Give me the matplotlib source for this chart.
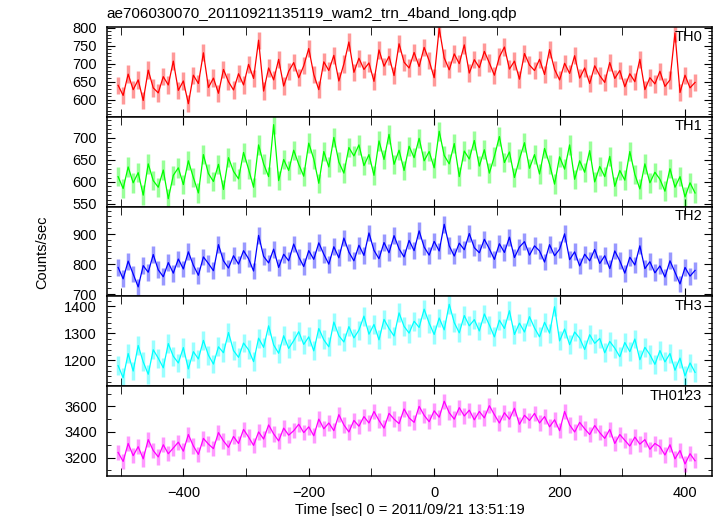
import matplotlib.pyplot as plt
import numpy as np
from matplotlib.ticker import MultipleLocator

plt.rcParams['font.family'] = ['Liberation Sans', 'DejaVu Sans']

# light curve bins: start time and width [sec]
t_start = -504
t_bin = 8

th0 = [640, 612, 671, 628, 655, 598, 682, 633, 619, 664, 641, 707,
       626, 652, 589, 668, 645, 730, 634, 660, 618, 684, 650, 627,
       672, 641, 698, 659, 765, 624, 688, 655, 712, 638, 679, 703,
       661, 694, 742, 670, 628, 705, 681, 723, 652, 699, 760, 676,
       715, 684, 702, 651, 738, 693, 720, 667, 755, 704, 688, 731,
       692, 745, 708, 661, 798, 716, 683, 727, 700, 752, 674, 711,
       689, 734, 702, 668, 719, 746, 685, 707, 657, 728, 696, 681,
       712, 670, 739, 684, 655, 701, 673, 722, 660, 688, 645, 694,
       667, 648, 703, 659, 681, 636, 672, 650, 712, 628, 661, 644,
       679, 637, 655, 785, 620, 668, 633, 648]

th1 = [612, 585, 634, 598, 621, 570, 641, 603, 588, 627, 562, 615,
       632, 594, 648, 610, 575, 662, 619, 601, 640, 583, 655, 624,
       607, 667, 629, 588, 684, 641, 612, 730, 603, 651, 626, 672,
       640, 613, 688, 652, 597, 669, 634, 701, 645, 620, 678, 659,
       684, 637, 662, 615, 693, 651, 708, 640, 672, 626, 681, 655,
       699, 648, 669, 632, 715, 660, 641, 687, 612, 670, 652, 694,
       636, 673, 620, 658, 703, 644, 668, 610, 652, 689, 631, 662,
       618, 676, 640, 595, 657, 629, 684, 606, 648, 622, 671, 600,
       635, 612, 658, 590, 626, 604, 669, 617, 584, 641, 598, 622,
       606, 579, 630, 588, 612, 566, 598, 575]

th2 = [790, 752, 811, 768, 725, 796, 774, 833, 782, 759, 806, 771,
       818, 785, 842, 797, 764, 825, 803, 779, 866, 812, 788, 829,
       801, 846, 819, 778, 897, 827, 805, 851, 790, 834, 812, 868,
       825, 793, 846, 817, 872, 834, 801, 859, 822, 888, 841, 812,
       864, 830, 905, 847, 819, 873, 839, 896, 852, 825, 880, 846,
       912, 858, 831, 877, 845, 934, 862, 828, 871, 849, 903, 856,
       839, 884, 852, 817, 869, 840, 891, 823, 858, 876, 831, 862,
       845, 808, 866, 829, 851, 902, 816, 842, 795, 834, 812, 850,
       803, 829, 786, 845, 812, 771, 824, 798, 862, 786, 809, 772,
       795, 758, 812, 774, 735, 790, 761, 780]

th3 = [1180, 1135, 1225, 1160, 1255, 1194, 1148, 1239, 1208, 1172, 1262, 1215,
       1190, 1247, 1168, 1232, 1205, 1274, 1219, 1186, 1250, 1228, 1303, 1236,
       1211, 1264, 1239, 1195, 1282, 1248, 1328, 1257, 1226, 1291, 1244, 1273,
       1306, 1259, 1287, 1235, 1318, 1276, 1250, 1342, 1291, 1268, 1325, 1283,
       1312, 1364, 1297, 1333, 1276, 1352, 1318, 1290, 1376, 1326, 1301, 1345,
       1322, 1390, 1338, 1296, 1357, 1313, 1408, 1340, 1302, 1366, 1328, 1351,
       1309, 1372, 1331, 1287, 1349, 1318, 1384, 1296, 1338, 1305, 1362, 1320,
       1287, 1341, 1301, 1399, 1272, 1316, 1258, 1305, 1282, 1240, 1295, 1263,
       1281, 1228, 1270, 1245, 1213, 1266, 1232, 1279, 1202, 1248, 1221, 1185,
       1236, 1194, 1225, 1163, 1208, 1142, 1190, 1155]

th0123 = [3240, 3170, 3310, 3215, 3285, 3190, 3340, 3255, 3205, 3300, 3230, 3275,
          3320, 3250, 3380, 3290, 3225, 3350, 3305, 3270, 3395, 3330, 3280, 3365,
          3310, 3420, 3360, 3295, 3400, 3345, 3455, 3385, 3330, 3430, 3375, 3410,
          3460, 3395, 3440, 3370, 3500, 3425, 3470, 3410, 3535, 3455, 3400, 3490,
          3445, 3520, 3470, 3560, 3490, 3430, 3545, 3500, 3465, 3580, 3510, 3475,
          3600, 3530, 3480, 3565, 3515, 3640, 3550, 3500, 3590, 3525, 3570, 3495,
          3560, 3510, 3605, 3535, 3470, 3550, 3500, 3585, 3460, 3530, 3490, 3545,
          3470, 3520, 3440, 3495, 3410, 3560, 3455, 3400, 3475, 3425, 3380, 3450,
          3395, 3350, 3420, 3310, 3380, 3335, 3290, 3360, 3305, 3340, 3265, 3310,
          3285, 3220, 3300, 3190, 3255, 3150, 3230, 3175]

bands = ['TH0', 'TH1', 'TH2', 'TH3', 'TH0123']
rates = [th0, th1, th2, th3, th0123]
errors = [24, 22, 28, 35, 60]
colors = ['#ff0000', '#00ff00', '#0000ff', '#00ffff', '#ff00ff']
ylims = [(553, 802), (544, 748), (693, 993), (1103, 1437), (3054, 3756)]
major = [50, 50, 100, 100, 200]
minor = [10, 10, 20, 20, 100]

fig = plt.figure(figsize=(7.17, 5.16), dpi=100)
gs = fig.add_gridspec(5, 1, left=0.149, right=0.993, top=0.948, bottom=0.077,
                      hspace=0)

axes = []
for i, band in enumerate(bands):
    ax = fig.add_subplot(gs[i], sharex=axes[0] if axes else None)
    y = np.array(rates[i])
    t = t_start + t_bin * np.arange(len(y))
    ax.errorbar(t, y, yerr=errors[i], fmt='none', ecolor=colors[i],
                alpha=0.4, elinewidth=2.5)
    ax.plot(t, y, color=colors[i], lw=0.9)
    ax.set_ylim(*ylims[i])
    ax.yaxis.set_major_locator(MultipleLocator(major[i]))
    ax.yaxis.set_minor_locator(MultipleLocator(minor[i]))
    ax.text(0.984, 0.97, band, transform=ax.transAxes, ha='right', va='top',
            fontsize=10.5)
    ax.tick_params(which='both', direction='in', top=True, right=True,
                   labelsize=10.5, pad=7)
    ax.tick_params(which='major', length=6)
    ax.tick_params(which='minor', length=3)
    ax.tick_params(axis='x', which='minor', length=6)
    for s in ax.spines.values():
        s.set_linewidth(1.1)
    if i < len(bands) - 1:
        ax.tick_params(labelbottom=False)
    axes.append(ax)

axes[0].set_xlim(-522, 443)
axes[0].xaxis.set_major_locator(MultipleLocator(200))
axes[0].xaxis.set_minor_locator(MultipleLocator(100))

fig.text(0.149, 0.972, 'ae706030070_20110921135119_wam2_trn_4band_long.qdp',
         ha='left', va='center', fontsize=11)
fig.text(0.059, 0.512, 'Counts/sec', rotation=90, ha='center', va='center',
         fontsize=10.5)
axes[-1].set_xlabel('Time [sec] 0 = 2011/09/21 13:51:19', fontsize=10.5,
                    labelpad=2)

fig.savefig('out.png', dpi=100)
